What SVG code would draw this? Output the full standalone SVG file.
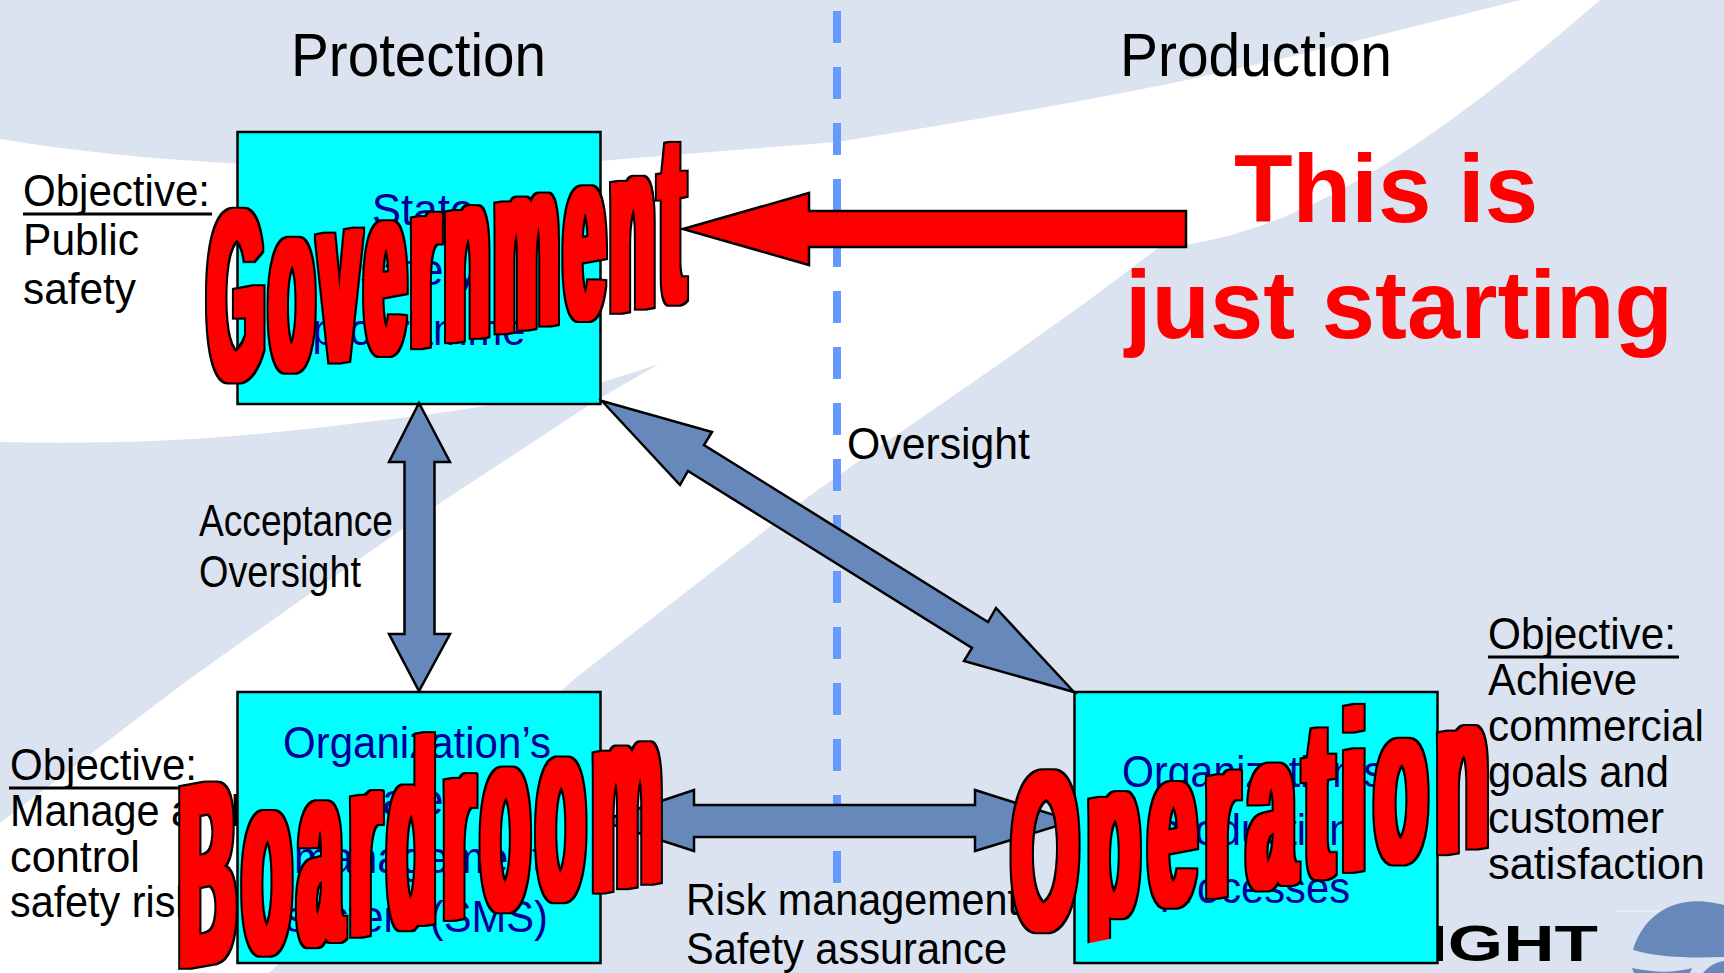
<svg xmlns="http://www.w3.org/2000/svg" width="1724" height="973" viewBox="0 0 1724 973">
<style>
text{font-family:"Liberation Sans",Arial,sans-serif}
.lb{font-size:44px;fill:#000}
.hd{font-size:61px;fill:#000}
.bx{font-size:44px;fill:#000099;text-anchor:middle}
.box{fill:#00FFFF;stroke:#000;stroke-width:2.5}
.arr{fill:#6688BB;stroke:#000;stroke-width:2.5;stroke-linejoin:miter}
.ul{stroke:#000;stroke-width:3}
.art{font-size:100px;font-weight:700;fill:#FF0000}
.big{font-size:96px;font-weight:700;fill:#FF0000;text-anchor:middle}
</style>
<defs>
<filter id="fat" filterUnits="userSpaceOnUse" x="0" y="0" width="1724" height="973" color-interpolation-filters="sRGB">
<feMorphology in="SourceAlpha" operator="dilate" radius="4 1" result="a"/>
<feMorphology in="a" operator="dilate" radius="2 2" result="b"/>
<feFlood flood-color="#000000"/><feComposite in2="b" operator="in" result="k"/>
<feFlood flood-color="#FF0000"/><feComposite in2="a" operator="in" result="r"/>
<feMerge><feMergeNode in="k"/><feMergeNode in="r"/></feMerge>
</filter>
<clipPath id="opclip"><polygon points="950,971 1724,816 1724,0 950,0"/></clipPath>
</defs>
<g id="background">
<rect width="1724" height="973" fill="#DCE3F0"/>
<path fill="#FFFFFF" d="M0,139 C80,152 170,162 300,166 C410,170 520,168 600,161 C680,154 760,148 837,142 C960,122 1070,104 1173,83 C1290,58 1420,25 1521,0 L1600,0 C1450,130 1300,240 1159,247 L1159,247 C1040,340 900,430 804,500 L573,680 L269,973 L0,973 L0,823 L188,680 L301,600 L434,507 L597,400 L659,364 L600,383 C520,402 450,412 383,420 C300,430 230,438 153,441 C100,443 50,443 0,442 Z"/>
</g>
<g id="divider"><line x1="837" y1="11" x2="837" y2="883" stroke="#6699FF" stroke-width="8" stroke-dasharray="32 24"/></g>
<g id="logo">
<text x="1428" y="961" font-size="50" font-weight="700" fill="#000" textLength="170" lengthAdjust="spacingAndGlyphs">IGHT</text>
<path fill="#6688BB" d="M1633,950 C1640,925 1660,905 1687,902 C1700,900 1715,903 1724,905 L1724,957 C1695,958 1660,958 1633,950 Z"/>
<path fill="#6688BB" d="M1632,968 C1660,973 1670,973 1692,968 L1690,973 L1634,973 Z M1703,973 C1710,965 1716,962 1724,961 L1724,973 Z"/>
<line x1="1616" y1="911" x2="1660" y2="911" stroke="#F0F3FA" stroke-width="1"/>
</g>
<g id="heading-protection"><text class="hd" x="291" y="76" textLength="255" lengthAdjust="spacingAndGlyphs">Protection</text></g>
<g id="heading-production"><text class="hd" x="1120" y="76" textLength="272" lengthAdjust="spacingAndGlyphs">Production</text></g>
<g id="objective-public">
<text class="lb" x="23" y="206" textLength="187" lengthAdjust="spacingAndGlyphs">Objective:</text>
<line class="ul" x1="23" y1="214" x2="212" y2="214"/>
<text class="lb" x="23" y="255" textLength="116" lengthAdjust="spacingAndGlyphs">Public</text>
<text class="lb" x="23" y="304" textLength="113" lengthAdjust="spacingAndGlyphs">safety</text>
</g>
<g id="objective-risk">
<text class="lb" x="10" y="780" textLength="187" lengthAdjust="spacingAndGlyphs">Objective:</text>
<line class="ul" x1="9" y1="788" x2="198" y2="788"/>
<text class="lb" x="10" y="826" textLength="230" lengthAdjust="spacingAndGlyphs">Manage and</text>
<text class="lb" x="10" y="872" textLength="130" lengthAdjust="spacingAndGlyphs">control</text>
<text class="lb" x="10" y="917" textLength="186" lengthAdjust="spacingAndGlyphs">safety risk</text>
</g>
<g id="objective-commercial">
<text class="lb" x="1488" y="649" textLength="188" lengthAdjust="spacingAndGlyphs">Objective:</text>
<line class="ul" x1="1488" y1="657" x2="1679" y2="657"/>
<text class="lb" x="1488" y="695" textLength="149" lengthAdjust="spacingAndGlyphs">Achieve</text>
<text class="lb" x="1488" y="741" textLength="216" lengthAdjust="spacingAndGlyphs">commercial</text>
<text class="lb" x="1488" y="787" textLength="181" lengthAdjust="spacingAndGlyphs">goals and</text>
<text class="lb" x="1488" y="833" textLength="176" lengthAdjust="spacingAndGlyphs">customer</text>
<text class="lb" x="1488" y="879" textLength="217" lengthAdjust="spacingAndGlyphs">satisfaction</text>
</g>
<g id="box-government">
<rect class="box" x="237.5" y="132" width="363" height="272"/>
<text class="bx" x="423" y="225">State</text>
<text class="bx" x="419" y="285">safety</text>
<text class="bx" x="419" y="345" textLength="213" lengthAdjust="spacingAndGlyphs">programme</text>
</g>
<g id="box-boardroom">
<rect class="box" x="237.5" y="692" width="363" height="271"/>
<text class="bx" x="417" y="758" textLength="268" lengthAdjust="spacingAndGlyphs">Organization’s</text>
<text class="bx" x="419" y="815">safety</text>
<text class="bx" x="419" y="873" textLength="250" lengthAdjust="spacingAndGlyphs">management</text>
<text class="bx" x="417" y="932" textLength="262" lengthAdjust="spacingAndGlyphs">system (SMS)</text>
</g>
<g id="box-operation">
<rect class="box" x="1074.5" y="692" width="363" height="271"/>
<text class="bx" x="1253" y="787" textLength="262" lengthAdjust="spacingAndGlyphs">Organization’s</text>
<text class="bx" x="1255" y="845" textLength="195" lengthAdjust="spacingAndGlyphs">production</text>
<text class="bx" x="1255" y="903" textLength="190" lengthAdjust="spacingAndGlyphs">processes</text>
</g>
<g id="connectors">
<polygon class="arr" points="419,403 450,462 434.5,462 434.5,634 450,634 419,691 389,634 404.5,634 404.5,462 389,462"/>
<polygon class="arr" points="602,401 712,432 704,445 988,622 996,608 1074,692 964,661 972,648 688,471 680,485"/>
<polygon class="arr" points="601,821 694,790 694,805 975,805 975,790 1073,821 975,851 975,837 694,837 694,851"/>
<polygon fill="#FF0000" stroke="#000" stroke-width="2.5" points="683,229 809,193 809,211 1186,211 1186,247 809,247 809,265"/>
</g>
<g id="labels">
<text class="lb" x="847" y="459" textLength="183" lengthAdjust="spacingAndGlyphs">Oversight</text>
<text class="lb" x="199" y="536" textLength="194" lengthAdjust="spacingAndGlyphs">Acceptance</text>
<text class="lb" x="199" y="587" textLength="162" lengthAdjust="spacingAndGlyphs">Oversight</text>
<text class="lb" x="686" y="915" textLength="333" lengthAdjust="spacingAndGlyphs">Risk management</text>
<text class="lb" x="686" y="964" textLength="321" lengthAdjust="spacingAndGlyphs">Safety assurance</text>
</g>
<g id="wordart-government" filter="url(#fat)"><text class="art" letter-spacing="8" transform="matrix(.72,-.127,0,2.42,208,384)">Government</text></g>
<g id="wordart-boardroom" filter="url(#fat)"><text class="art" letter-spacing="10" transform="matrix(.78,-.142,0,2.6,179,968)">Boardroom</text></g>
<g id="wordart-operation" clip-path="url(#opclip)"><g filter="url(#fat)"><text class="art" letter-spacing="11" transform="matrix(.85,-.1615,0,2.25,1012,935)">Operation</text></g></g>
<g id="callout">
<text class="big" x="1386" y="222">This is</text>
<text class="big" x="1399" y="338" textLength="548" lengthAdjust="spacingAndGlyphs">just starting</text>
</g>
</svg>
